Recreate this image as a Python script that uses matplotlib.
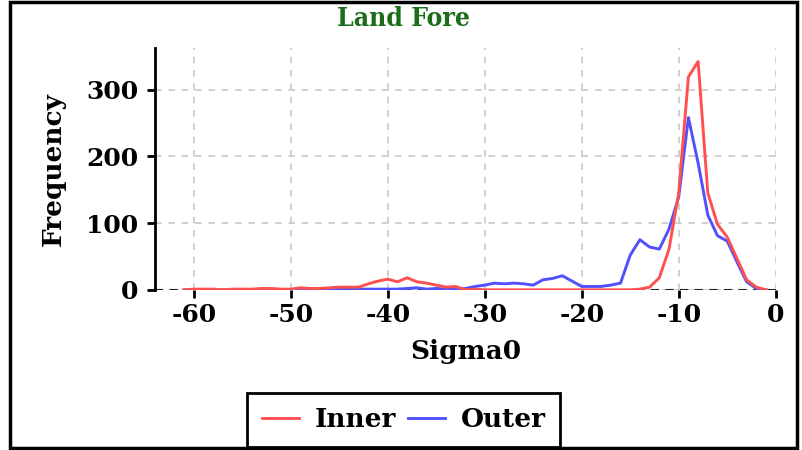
import numpy as np
import matplotlib.pyplot as plt
from matplotlib.patches import Rectangle

# histogram bin centres (Sigma0, dB) and counts
sigma0 = np.arange(-61, 0)
inner = [0, 1, 1, 1, 0, 1, 1, 1, 2, 2,
         1, 1, 3, 2, 2, 3, 4, 4, 4, 9,
         13, 16, 12, 18, 12, 10, 7, 4, 5, 0,
         1, 0, 0, 0, 0, 0, 0, 0, 0, 0,
         0, 0, 0, 0, 0, 0, 0, 1, 4, 18,
         61, 145, 319, 342, 145, 98, 79, 47, 15, 4,
         0]
outer = [0, 0, 0, 0, 0, 0, 0, 0, 0, 0,
         0, 0, 0, 0, 0, 1, 1, 1, 1, 1,
         1, 1, 1, 2, 3, 1, 2, 1, 1, 2,
         5, 7, 10, 9, 10, 9, 7, 15, 17, 21,
         13, 5, 5, 5, 7, 10, 52, 75, 64, 61,
         91, 139, 258, 190, 112, 81, 73, 42, 12, 2,
         0]
xticks = [-60, -50, -40, -30, -20, -10, 0]
yticks = [0, 100, 200, 300]

plt.rcParams['font.family'] = ['DejaVu Serif']
plt.rcParams['font.weight'] = 'bold'
plt.rcParams['axes.unicode_minus'] = False

fig = plt.figure(figsize=(8.03, 4.5), dpi=100, facecolor='white')
ax = fig.add_axes([0.193, 0.356, 0.773, 0.537])

ax.grid(True, color='#c8c8c8', linestyle=(0, (4, 4)), linewidth=1.2)
ax.set_axisbelow(True)
ax.axhline(0, color='#222222', linestyle=(0, (4, 3)), linewidth=1.5, zorder=1.5)
ax.plot(sigma0, inner, color='#ff5050', lw=2.1, label='Inner', zorder=3)
ax.plot(sigma0, outer, color='#5050ff', lw=2.1, label='Outer', zorder=2.5)

ax.set_xlim(-64, 0)
ax.set_ylim(0, 362)
ax.set_xticks(xticks)
ax.set_yticks(yticks)
ax.tick_params(labelsize=18, width=2, length=6, color='black')
ax.tick_params(axis='y', pad=6)
for s in ['top', 'right', 'bottom']:
    ax.spines[s].set_visible(False)
ax.spines['left'].set_linewidth(2)

ax.set_xlabel('Sigma0', fontsize=19, fontweight='bold', labelpad=9)
ax.set_ylabel('Frequency', fontsize=19, fontweight='bold', labelpad=15)

fig.text(0.503, 0.958, 'Land Fore', ha='center', va='center', color='#1a6e1a',
         fontsize=19, fontweight='bold', fontstretch='condensed')

leg = fig.legend(loc='center', bbox_to_anchor=(0.503, 0.067), ncol=2, fontsize=19,
                 frameon=True, fancybox=False, edgecolor='black', framealpha=1,
                 handlelength=1.4, columnspacing=0.45, handletextpad=0.6,
                 borderpad=0.55)
leg.get_frame().set_linewidth(2)

fig.patches.append(Rectangle((0.012, 0.005), 0.98, 0.99, transform=fig.transFigure,
                             fill=False, edgecolor='black', linewidth=2.5))

fig.savefig('out.png', dpi=100)
